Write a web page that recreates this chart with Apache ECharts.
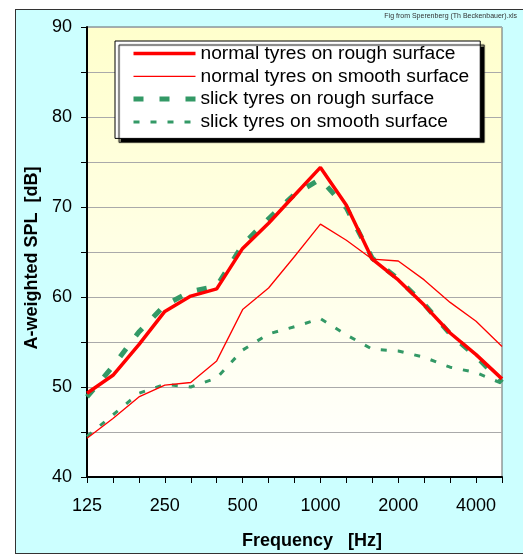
<!DOCTYPE html>
<html>
<head>
<meta charset="utf-8">
<script src="https://cdn.jsdelivr.net/npm/echarts@6/dist/echarts.min.js"></script>
<style>
html, body { margin: 0; padding: 0; background: #fff; }
#frame { position: absolute; left: 15px; top: 9px; width: 520px; height: 543px; background: #ccffff; border: 1px solid #333; }
#main { position: absolute; left: 0; top: 0; width: 523px; height: 558px; }
</style>
</head>
<body>
<div id="frame"></div>
<div id="main"></div>
<script>
// third-octave band centre frequencies
var freqs = ['125', '160', '200', '250', '315', '400', '500', '630', '800', '1000', '1250', '1600', '2000', '2500', '3150', '4000', '5000'];
var normalRough  = [49.3, 51.3, 54.7, 58.4, 60.1, 60.9, 65.4, 68.2, 71.3, 74.4, 70.2, 64.2, 61.9, 59.1, 56.0, 53.6, 50.9];
var normalSmooth = [44.3, 46.5, 48.9, 50.2, 50.5, 52.9, 58.6, 61.0, 64.5, 68.1, 66.3, 64.2, 64.0, 61.9, 59.4, 57.3, 54.5];
var slickRough   = [48.9, 52.3, 56.1, 59.1, 60.6, 61.2, 65.8, 68.7, 71.4, 73.1, 69.9, 64.3, 62.0, 59.2, 55.9, 53.4, 50.5];
var slickSmooth  = [44.5, 46.9, 49.3, 50.3, 50.0, 51.0, 54.1, 55.9, 56.7, 57.6, 55.8, 54.2, 54.0, 53.3, 52.2, 51.6, 50.4];
var yTicks = [40, 50, 60, 70, 80, 90];

var chart = echarts.init(document.getElementById('main'));
var font = 'Liberation Sans, Arial, sans-serif';

var red = '#ff0000';
var green = '#339966';

option = {
    backgroundColor: 'transparent',
    animation: false,
    graphic: [{
        type: 'text',
        right: 6,
        top: 13,
        style: {
            text: 'Fig from Sperenberg (Th Beckenbauer).xls',
            font: '7px ' + font,
            fill: '#333'
        }
    }],
    grid: {
        left: 87,
        right: 21,
        top: 27,
        bottom: 81,
        show: true,
        borderColor: '#666',
        borderWidth: 1,
        backgroundColor: new echarts.graphic.LinearGradient(0, 0, 0, 1, [
            {offset: 0, color: '#ffffcc'},
            {offset: 1, color: '#ffffff'}
        ])
    },
    legend: {
        orient: 'vertical',
        left: 115,
        top: 41,
        padding: [3, 11, 7, 16],
        itemWidth: 62,
        itemHeight: 14,
        itemGap: 3.8,
        backgroundColor: '#fff',
        borderColor: '#000',
        borderWidth: 1,
        shadowColor: '#000',
        shadowBlur: 1,
        shadowOffsetX: 4,
        shadowOffsetY: 4,
        itemStyle: { color: 'rgba(0,0,0,0)', borderWidth: 0 },
        textStyle: {
            color: '#000',
            fontSize: 19.2,
            fontFamily: font
        },
        data: [
            {name: 'normal tyres on rough surface', lineStyle: {color: red, width: 3.5}},
            {name: 'normal tyres on smooth surface', lineStyle: {color: red, width: 1.3}},
            {name: 'slick tyres on rough surface', lineStyle: {color: green, width: 5, type: [10, 16]}},
            {name: 'slick tyres on smooth surface', lineStyle: {color: green, width: 3, type: [6, 11]}}
        ]
    },
    xAxis: {
        type: 'category',
        boundaryGap: false,
        data: freqs,
        name: 'Frequency   [Hz]',
        nameLocation: 'middle',
        nameGap: 55,
        nameTextStyle: {
            fontSize: 18,
            fontWeight: 'bold',
            fontFamily: font,
            color: '#000',
            padding: [0, 0, 0, 35]
        },
        axisLine: { lineStyle: { color: '#000', width: 2 } },
        axisTick: { interval: 0, length: 6, lineStyle: { color: '#000', width: 1 } },
        axisLabel: {
            interval: 2,
            margin: 20,
            fontSize: 18,
            fontFamily: font,
            color: '#000'
        },
        splitLine: { show: false }
    },
    yAxis: {
        type: 'value',
        min: 40,
        max: 90,
        interval: 5,
        name: 'A-weighted SPL  [dB]',
        nameLocation: 'middle',
        nameGap: 46,
        nameTextStyle: {
            fontSize: 18,
            fontWeight: 'bold',
            fontFamily: font,
            color: '#000',
            padding: [0, 12, 0, 0]
        },
        axisLine: { show: true, lineStyle: { color: '#000', width: 2 } },
        axisTick: { show: true, length: 6, lineStyle: { color: '#000', width: 1 } },
        axisLabel: {
            margin: 15,
            fontSize: 18,
            fontFamily: font,
            color: '#000',
            formatter: function (v) {
                return yTicks.indexOf(v) >= 0 ? v : '';
            }
        },
        splitLine: { lineStyle: { color: '#aaa', width: 1 } }
    },
    series: [
        {
            name: 'normal tyres on rough surface',
            type: 'line',
            symbol: 'none',
            z: 4,
            lineStyle: { color: red, width: 3.5 },
            itemStyle: { color: red },
            data: normalRough
        },
        {
            name: 'normal tyres on smooth surface',
            type: 'line',
            symbol: 'none',
            z: 4,
            lineStyle: { color: red, width: 1.3 },
            itemStyle: { color: red },
            data: normalSmooth
        },
        {
            name: 'slick tyres on rough surface',
            type: 'line',
            symbol: 'none',
            z: 3,
            lineStyle: { color: green, width: 5, type: [10, 16] },
            itemStyle: { color: green },
            data: slickRough
        },
        {
            name: 'slick tyres on smooth surface',
            type: 'line',
            symbol: 'none',
            z: 3,
            lineStyle: { color: green, width: 3, type: [6, 11] },
            itemStyle: { color: green },
            data: slickSmooth
        }
    ]
};

chart.setOption(option);
</script>
</body>
</html>
